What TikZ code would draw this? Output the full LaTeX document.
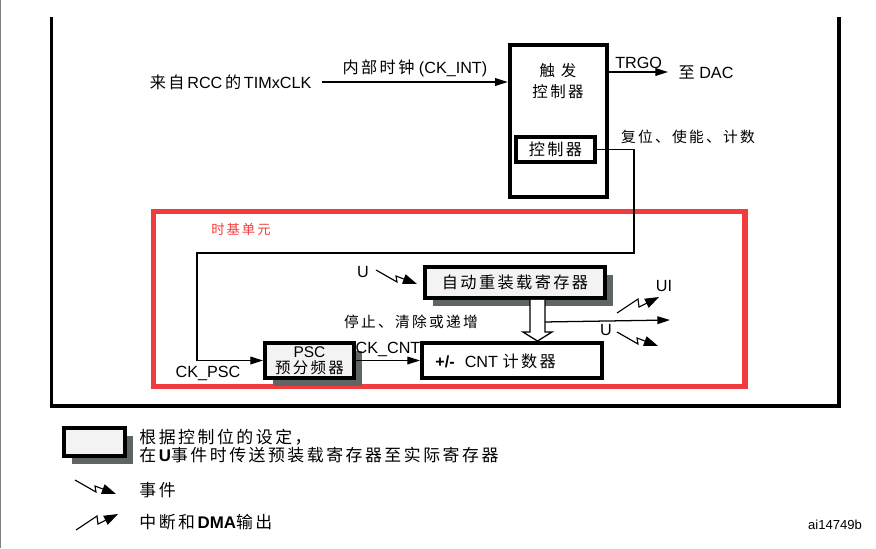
\documentclass[tikz,border=0pt]{standalone}
\usepackage{fontspec}
\setmainfont{Liberation Sans}
\newfontfamily\cjk[LetterSpace=15]{Noto Sans CJK SC}
\newcommand{\zh}[1]{{\cjk #1}}
\usepackage{tikz}
\usetikzlibrary{arrows.meta, positioning, calc, shadows}
\definecolor{basered}{RGB}{240,60,60}
\definecolor{regfill}{RGB}{243,243,243}
\definecolor{shadowgray}{RGB}{95,100,100}

\begin{document}
\begin{tikzpicture}[x=0.025cm, y=-0.025cm, >={Triangle[length=9pt,width=5.5pt]},
    line width=0.9pt,
    every node/.style={font=\fontsize{11.5}{13}\selectfont, inner sep=2pt},
    frame/.style={line width=2.3pt, line join=miter},
    timebase/.style={draw=basered, line width=4.2pt},
    blockbox/.style={draw, line width=2.8pt, fill=white, inner sep=0pt},
    regbox/.style={blockbox, fill=regfill,
      general shadow={fill=shadowgray, shadow xshift=6pt, shadow yshift=-5.5pt}},
    bolt/.style={line width=0.8pt, -{Triangle[length=10pt,width=7pt]}},
    pics/evtbolt/.style={code={\draw[bolt] (0,0) -- (21,12) -- (20,6) -- (41,14);}},
    pics/intbolt/.style={code={\draw[bolt] (0,0) -- (21,-14) -- (22,-6) -- (42,-16);}}]
  \useasboundingbox (0,0) rectangle (876,548);
  \draw[gray, line width=1pt] (0.7,0) -- (0.7,548);
  % outer frame
  \draw[frame] (51.5,17) -- (51.5,406) -- (839,406) -- (839,17);
  % trigger controller
  \node[blockbox, line width=3.2pt, minimum width=2.425cm, minimum height=3.8cm] (trig) at (558.5,121) {};
  \node[align=center, font=\fontsize{11}{15}\selectfont] (trigname) at (558,81) {\zh{触 发}\\\zh{控制器}};
  \node[blockbox, line width=2.2pt, minimum width=1.975cm, minimum height=0.625cm] (ctrl) at (555.5,149.5) {\zh{控制器}};
  \node[anchor=east, inner xsep=0.25cm] (rcc) at (322,82) {\zh{来自}\,RCC\,\zh{的}\,TIMxCLK};
  \draw[->] (rcc.east) -- (rcc.east -| trig.west)
        node[midway, above=1pt] (ckint) {\zh{内部时钟} (CK\_INT)};
  \node[anchor=west, inner xsep=0.25cm] (dac) at (668,72) {\zh{至} DAC};
  \draw[->] (trig.east |- dac.west) -- (dac.west) node[midway, above=0pt] (trgo) {TRGO};
  \node[font=\fontsize{10.5}{12}\selectfont] (enable) at (688,137) {\zh{复位、使能、计数}};
  % time base unit
  \draw[timebase] (153.5,211.5) rectangle (745,386.5);
  \node[text=basered, font=\fontsize{9.5}{11}\selectfont] (tbname) at (241,229) {\zh{时基单元}};
  \node[regbox, minimum width=4.5cm, minimum height=0.775cm] (reload) at (515,282.5) {\zh{自动重装载寄存器}};
  \node[regbox, minimum width=2.225cm, minimum height=0.875cm, align=center,
        font=\fontsize{11}{11.5}\selectfont] (psc) at (309.5,360.5) {PSC\\\zh{预分频器}};
  \node[blockbox, minimum width=4.5cm, minimum height=0.875cm] (cnt) at (512,360.5) {};
  \node[anchor=west] (cntname) at (432,361) {\textbf{+/-}\hspace{0.25cm}CNT \zh{计数器}};
  \coordinate (loopR) at (634,253);
  \coordinate (loopL) at (197,253);
  \draw[->] (ctrl.east) -| (loopR) -- (loopL) |- (psc.west);
  \node (ckpsc) at (208,373) {CK\_PSC};
  \draw[->] (psc.east) -- (cnt.west) node[midway, above=0pt] (ckcnt) {CK\_CNT};
  \node[font=\fontsize{10.5}{12}\selectfont] (stopclr) at (411,322) {\zh{停止、清除或递增}};
  % preload transfer
  \coordinate (ldtop) at ($(reload.south)+(22.5,0)$);
  \coordinate (ldbot) at (ldtop |- cnt.north);
  \draw[fill=white] ($(ldtop)+(-7.5,0)$) -- ($(ldbot)+(-7.5,-9)$) -- ($(ldbot)+(-14.5,-9)$)
        -- (ldbot) -- ($(ldbot)+(14.5,-9)$) -- ($(ldbot)+(7.5,-9)$) -- ($(ldtop)+(7.5,0)$);
  \coordinate (uout) at (670,320);
  \draw[->] ($(ldtop)+(7.5,22)$) -- (uout);
  % events
  \node (uevt) at (363,272) {U};
  \pic at (376,270) {evtbolt};
  \node (uilbl) at (664,286) {UI};
  \pic at (617,313) {intbolt};
  \node (ulbl) at (606,330) {U};
  \pic at (617,332) {evtbolt};
  % key
  \node[regbox, minimum width=1.525cm, minimum height=0.7cm] (keybox) at (94.5,442) {};
  \node[anchor=west, align=left, font=\fontsize{12}{12.8}\selectfont] (keytxt) at (136,446)
        {\zh{根据控制位的设定，}\\\zh{在}\textbf{U}\zh{事件时传送预装载寄存器至实际寄存器}};
  \pic at (75,480) {evtbolt};
  \node[anchor=west, font=\fontsize{12}{14}\selectfont] (keyevt) at (136,490) {\zh{事件}};
  \pic at (76,530) {intbolt};
  \node[anchor=west, font=\fontsize{12}{14}\selectfont] (keyint) at (136,522) {\zh{中断和}\textbf{DMA}\zh{输出}};
  \node[font=\fontsize{9.3}{11}\selectfont] (figid) at (835,525) {ai14749b};
\end{tikzpicture}
\end{document}
